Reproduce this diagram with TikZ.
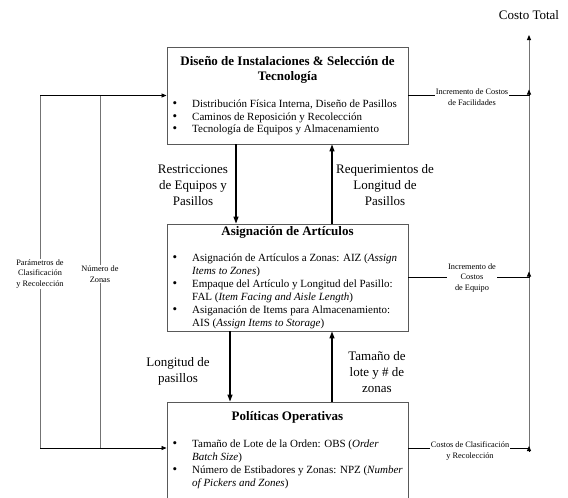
\documentclass[tikz,border=0pt]{standalone}
\usepackage{fontspec}
\setmainfont{Liberation Serif}
\usetikzlibrary{arrows.meta}
\begin{document}
\begin{tikzpicture}[x=1pt,y=-1pt]
\tikzset{
 box/.style={draw=black!65, line width=0.9pt, minimum width=241pt, inner sep=0pt},
 ttl/.style={font=\fontsize{13}{15}\selectfont\bfseries, anchor=mid, inner sep=0pt},
 body/.style={font=\fontsize{11}{13}\selectfont, anchor=mid west, inner sep=0pt},
 bul/.style={font=\fontsize{13}{13}\selectfont, anchor=mid, inner sep=0pt},
 lbl/.style={font=\fontsize{13}{16}\selectfont, align=center, inner sep=0pt},
 small/.style={font=\fontsize{8.3}{10.5}\selectfont, align=center, fill=white, inner sep=1pt},
 flow/.style={line width=1.2pt, -{Triangle[length=7pt,width=5pt]}},
 feed/.style={line width=0.8pt, -{Triangle[length=5pt,width=4pt]}},
 vline/.style={draw=black!55, line width=0.9pt},
 hline/.style={draw=black, line width=0.8pt},
 tip/.style={line width=0.8pt, -{Triangle[length=5pt,width=4pt]}},
}
\useasboundingbox (0,0) rectangle (568,498);
\clip (0,0) rectangle (568,498);
\fill[white] (0,0) rectangle (568,498);

% boxes
\node[box, minimum height=97pt] (top) at (287.5,95.5) {};
\node[box, minimum height=107pt] (mid) at (287.5,277.5) {};
\node[box, minimum height=128pt] (bot) at (287.5,466) {};

% top box text
\node[ttl] (t1) at (287.5,63) {Diseño de Instalaciones \& Selección de};
\node[ttl] (t2) at (287.5,78) {Tecnología};
\node[bul] (tb1) at (175,105) {\textbullet};
\node[body] (tl1) at (192,105) {Distribución Física Interna, Diseño de Pasillos};
\node[bul] (tb2) at (175,118) {\textbullet};
\node[body] (tl2) at (192,118) {Caminos de Reposición y Recolección};
\node[bul] (tb3) at (175,130.5) {\textbullet};
\node[body] (tl3) at (192,130.5) {Tecnología de Equipos y Almacenamiento};

% middle box text
\node[ttl] (m1) at (287.5,233.5) {Asignación de Artículos};
\node[bul] (mb1) at (175,259) {\textbullet};
\node[body] (ml1) at (192,259) {Asignación de Artículos a Zonas: AIZ (\textit{Assign}};
\node[body] (ml2) at (192,272) {\textit{Items to Zones})};
\node[bul] (mb2) at (175,285) {\textbullet};
\node[body] (ml3) at (192,285) {Empaque del Artículo y Longitud del Pasillo:};
\node[body] (ml4) at (192,298) {FAL (\textit{Item Facing and Aisle Length})};
\node[bul] (mb3) at (175,311.5) {\textbullet};
\node[body] (ml5) at (192,311.5) {Asiganación de Items para Almacenamiento:};
\node[body] (ml6) at (192,324.5) {AIS (\textit{Assign Items to Storage})};

% bottom box text
\node[ttl] (b1) at (287.5,418) {Políticas Operativas};
\node[bul] (bb1) at (175,445) {\textbullet};
\node[body] (bl1) at (192,445) {Tamaño de Lote de la Orden: OBS (\textit{Order}};
\node[body] (bl2) at (192,458) {\textit{Batch Size})};
\node[bul] (bb2) at (175,471) {\textbullet};
\node[body] (bl3) at (192,471) {Número de Estibadores y Zonas: NPZ (\textit{Number}};
\node[body] (bl4) at (192,484) {\textit{of Pickers and Zones})};

% vertical flows between boxes
\coordinate (xa) at (236,0);
\coordinate (xb) at (332,0);
\coordinate (xc) at (230,0);
\draw[flow] (top.south -| xa) -- (mid.north -| xa);
\draw[flow] (mid.north -| xb) -- (top.south -| xb);
\draw[flow] (mid.south -| xc) -- (bot.north -| xc);
\draw[flow] (bot.north -| xb) -- (mid.south -| xb);

\node[lbl] (l1) at (193,185.5) {Restricciones\\de Equipos y\\Pasillos};
\node[lbl] (l2) at (385,185.5) {Requerimientos de\\Longitud de\\Pasillos};
\node[lbl] (l3) at (178,371) {Longitud de\\pasillos};
\node[lbl] (l4) at (377,372) {Tamaño de\\lote y \# de\\zonas};

% left feedback lines
\coordinate (xo) at (40,0);
\coordinate (xi) at (100,0);
\coordinate (yb) at (0,448);
\draw[vline] (top.west -| xo) -- (yb -| xo);
\draw[vline] (top.west -| xi) -- (yb -| xi);
\draw[feed] (top.west -| xo) -- (top.west);
\draw[feed] (yb -| xo) -- (yb -| bot.west);
\node[small] (p1) at (40,274) {Parámetros de\\Clasificación\\y Recolección};
\node[small] (p2) at (100,274) {Número de\\Zonas};

% right cost lines
\coordinate (xr) at (529,0);
\coordinate (ytop) at (0,35);
\node[font=\fontsize{13}{15}\selectfont, inner sep=0pt] (ct) at (529,15) {Costo Total};
\draw[vline, -{Triangle[length=5pt,width=4pt,black]}] (yb -| xr) -- (ytop -| xr);
\draw[hline] (top.east) -- (top.east -| xr);
\draw[hline] (mid.east) -- (mid.east -| xr);
\draw[hline] (yb -| bot.east) -- (yb -| xr);
\draw[tip] (top.east -| xr) -- ++(0,-6);
\draw[tip] (mid.east -| xr) -- ++(0,-6);
\draw[tip] ([yshift=-3pt]yb -| xr) -- ++(0,-5);
\node[small] (r1) at (472,97) {Incremento de Costos\\de Facilidades};
\node[small] (r2) at (472,278) {Incremento de\\Costos\\de Equipo};
\node[small] (r3) at (470,451) {Costos de Clasificación\\y Recolección};
\end{tikzpicture}
\end{document}
